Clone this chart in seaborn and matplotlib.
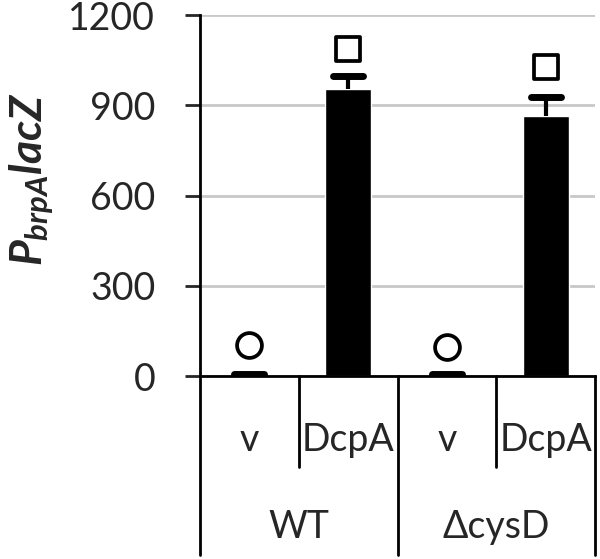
import matplotlib
matplotlib.use("Agg")
import matplotlib.pyplot as plt
import matplotlib.transforms as mtransforms
import seaborn as sns
import pandas as pd
import numpy as np

# data
strains = ["WT", "WT", "ΔcysD", "ΔcysD"]
plasmids = ["v", "DcpA", "v", "DcpA"]
values = [2, 954, 2, 864]
errors = [4, 43, 4, 63]
marker_y = [103, 1087, 97, 1027]
marker_shape = ["o", "s", "o", "s"]
yticks = [0, 300, 600, 900, 1200]

sns.set_theme(style="white")
plt.rcParams.update({
    'font.family': ['Lato', 'DejaVu Sans'],
    'mathtext.fontset': 'custom',
    'mathtext.it': 'Lato:italic:bold',
    'mathtext.rm': 'Lato:bold',
    'mathtext.bf': 'Lato:bold',
    'axes.edgecolor': 'black',
    'axes.linewidth': 2,
})

df = pd.DataFrame({"strain": strains, "plasmid": plasmids, "value": values})
df["pos"] = [f"{s}_{p}" for s, p in zip(strains, plasmids)]

fig = plt.figure(figsize=(6, 5.59), dpi=100)
ax = fig.add_axes([0.333, 0.327, 0.659, 0.646])

sns.barplot(data=df, x="pos", y="value", color="black", width=0.47,
            saturation=1, errorbar=None, ax=ax)

x = np.arange(len(values))
tops = np.array(values) + np.array(errors)
ax.errorbar(x, values, yerr=[np.zeros(len(errors)), errors], fmt="none",
            ecolor="black", elinewidth=3, capsize=0, zorder=3)
# rounded caps like the original
ax.hlines(tops, x - 0.15, x + 0.15, colors="black", linewidth=5,
          capstyle="round", zorder=3)

for xi, yi, m in zip(x, marker_y, marker_shape):
    ax.scatter(xi, yi, marker=m, s=320, facecolor="white",
               edgecolor="black", linewidth=2.7, zorder=4)

ax.set_ylim(0, 1200)
ax.set_xlim(-0.5, 3.5)
ax.set_yticks(yticks)
ax.set_yticklabels([str(t) for t in yticks], fontsize=27)
ax.set_xticks([])
ax.set_xlabel("")
ax.set_ylabel("")
ax.yaxis.grid(True, color="#c8c8c8", linewidth=2)
ax.set_axisbelow(True)
ax.tick_params(axis="y", direction="out", length=11, width=2, pad=21,
               left=True)
for side in ["top", "right"]:
    ax.spines[side].set_visible(False)

# category table under the axis
trans = mtransforms.blended_transform_factory(ax.transData, ax.transAxes)
for xb in [0.5, 2.5]:
    ax.plot([xb, xb], [0, -0.252], transform=trans, color="black",
            linewidth=2, clip_on=False)
for xb in [-0.5, 1.5, 3.5]:
    ax.plot([xb, xb], [0, -0.496], transform=trans, color="black",
            linewidth=2, clip_on=False)
for xi, p in zip(x, plasmids):
    ax.text(xi, -0.177, p, transform=trans, ha="center", va="center",
            fontsize=27)
for xc, s in zip([0.5, 2.5], ["WT", "ΔcysD"]):
    ax.text(xc, -0.418, s, transform=trans, ha="center", va="center",
            fontsize=27)

fig.text(0.052, 0.68, r"$P_{brpA}lacZ$", rotation=90, ha="center",
         va="center", fontsize=32)

fig.savefig("out.png", dpi=100)
